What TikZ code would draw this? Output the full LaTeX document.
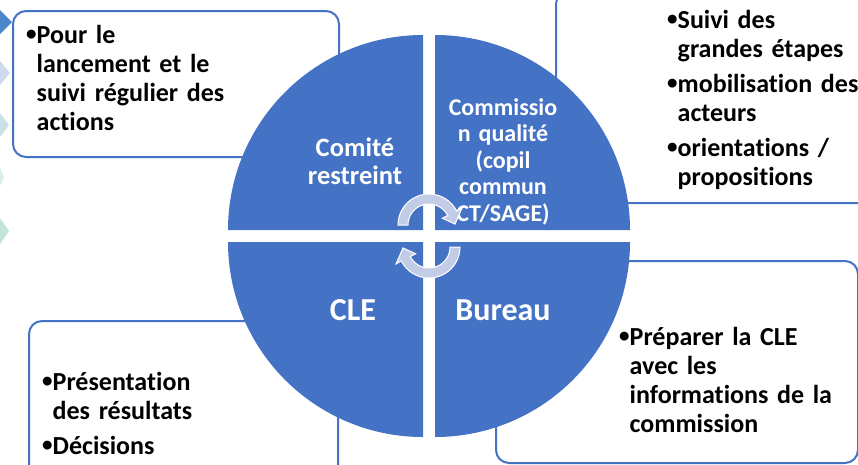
\documentclass[tikz,border=0pt]{standalone}
\usepackage{fontspec}
\setmainfont{Carlito}[Ligatures={NoCommon}]
\usetikzlibrary{arrows.meta}
\definecolor{qblue}{HTML}{4472C4}
\definecolor{arrfill}{HTML}{C2CCE7}
\definecolor{dA}{HTML}{4A86C8}
\definecolor{dB}{HTML}{CDD9EC}
\definecolor{dC}{HTML}{C9E1E6}
\definecolor{dD}{HTML}{D9EEEC}
\definecolor{dE}{HTML}{C4E4DA}
\newcommand{\bul}{\makebox[9.5pt][l]{\hspace*{-1pt}\raisebox{3pt}{\fontsize{21}{21}\selectfont\textbullet}}}
\newcommand{\ind}{\hspace*{9.5pt}}
\tikzset{
  box/.style={draw=qblue, line width=2pt, fill=white, rounded corners=13pt, anchor=north west, inner sep=0pt},
  boxtext/.style={anchor=base west, inner sep=0pt, text width=260pt, align=left,
    font=\fontsize{26}{29}\selectfont\bfseries},
  qtext/.style={anchor=base, inner sep=0pt, text width=130pt, align=center, text=white,
    font=\fontsize{24}{26.5}\selectfont\bfseries},
  bigtext/.style={anchor=base, inner sep=0pt, text=white, font=\fontsize{32}{34}\selectfont\bfseries},
  quad/.style={fill=qblue},
  cyc/.pic={
    \filldraw[fill=arrfill, draw=white, line width=1pt]
      (180:31) arc[start angle=180, end angle=333, radius=31]
      -- (333:37) -- (358:26) -- (333:15) -- (333:21)
      arc[start angle=333, end angle=180, radius=21] -- cycle;
  }
}
\begin{document}
\begin{tikzpicture}[x=1pt, y=-1pt]
\useasboundingbox (0,0) rectangle (858,464);
% decorative diamonds at left edge
\fill[dA] (0,10) -- (12,22) -- (0,34) -- (-12,22) -- cycle;
\fill[dB] (0,61) -- (10,73) -- (0,85) -- (-10,73) -- cycle;
\fill[dC] (0,113) -- (9,125) -- (0,137) -- (-9,125) -- cycle;
\fill[dD] (0,168) -- (4,177) -- (0,186) -- (-4,177) -- cycle;
\fill[dE] (0,218) -- (9,231) -- (0,244) -- (-9,231) -- cycle;
% boxes
\node[box, minimum width=326pt, minimum height=146pt] (boxTL) at (12,10) {};
\node[box, minimum width=320pt, minimum height=212pt] (boxTR) at (555,-10) {};
\node[box, minimum width=309pt, minimum height=160pt] (boxBL) at (28,320) {};
\node[box, minimum width=362pt, minimum height=202pt] (boxBR) at (495,260) {};
% quadrants
\fill[quad] (423,230) -- (228,230) arc[start angle=180, end angle=270, radius=195] -- cycle;
\fill[quad] (435,230) -- (435,35) arc[start angle=270, end angle=360, radius=195] -- cycle;
\fill[quad] (423,242) -- (228,242) arc[start angle=180, end angle=90, radius=195] -- cycle;
\fill[quad] (435,242) -- (630,242) arc[start angle=0, end angle=90, radius=195] -- cycle;
% box texts
\node[boxtext] (tTL) at (27,43) {\bul Pour le\\\ind lancement et le\\\ind suivi régulier des\\\ind actions};
\node[boxtext] (tTR) at (668,28) {\bul Suivi des\\\ind grandes étapes\\[6pt]\bul mobilisation des\\\ind acteurs\\[6pt]\bul orientations /\\\ind propositions};
\node[boxtext] (tBL) at (43,390) {\bul Présentation\\\ind des résultats\\[6pt]\bul Décisions};
\node[boxtext] (tBR) at (620,345) {\bul Préparer la CLE\\\ind avec les\\\ind informations de la\\\ind commission};
% quadrant labels
\node[qtext, font=\fontsize{26.5}{28}\selectfont\bfseries] (lComite) at (355,156) {Comité\\restreint};
\node[qtext] (lCommission) at (503,115) {Commissio\\n qualité\\(copil\\commun\\CT/SAGE)};
\node[bigtext] (lCLE) at (353,320) {CLE};
\node[bigtext] (lBureau) at (503,320) {Bureau};
% circular arrows
\pic at (429,225) {cyc};
\pic[rotate=180] at (429,247) {cyc};
\end{tikzpicture}
\end{document}
